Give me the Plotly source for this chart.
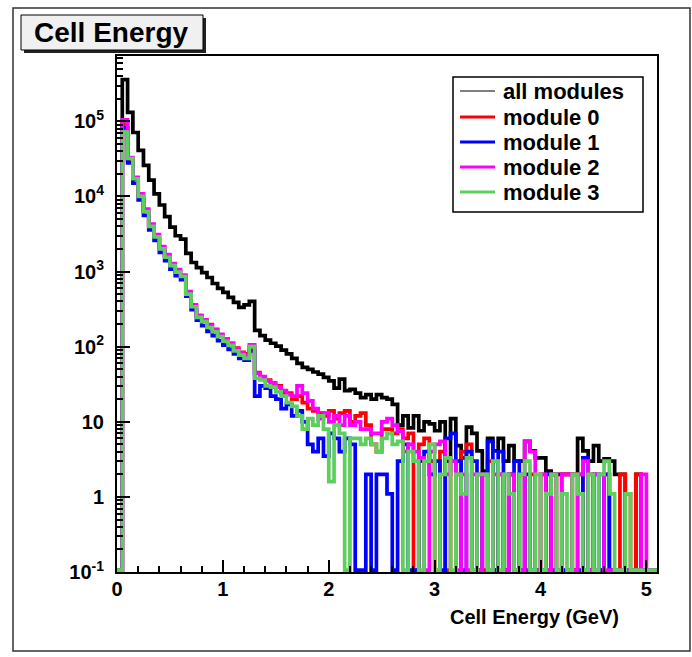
import plotly.graph_objects as go

# ---------------- data (bin contents, 0.05 GeV bins from 0 to 5.1 GeV) ----------------
BIN_WIDTH = 0.05
N_BINS = 102
bin_edges = [round(i * BIN_WIDTH, 4) for i in range(N_BINS + 1)]

all_modules = [
    0, 3.6e5, 1.32e5, 7.1e4, 4.1e4, 2.6e4, 1.65e4, 1.08e4, 7.7e3, 5.4e3,
    3.9e3, 3.0e3, 2.7e3, 1.75e3, 1.32e3, 1.13e3, 970, 834, 694, 596,
    527, 453, 388, 333, 360, 400, 165, 140, 122, 111,
    102, 90, 80, 70, 60, 53, 50, 46, 43, 39,
    35, 28, 37, 26, 27, 24, 21, 23, 20, 23,
    21, 20, 17, 9, 12, 8.3, 12, 7.6, 10, 9.4,
    7.6, 10, 3, 11, 4.8, 3.3, 8.5, 7, 4.1, 2.2,
    6, 4.1, 6, 3, 4.8, 3, 3, 5.5, 4.1, 3.3,
    3.3, 2.2, 2, 2, 2, 2, 2, 6, 4.1, 3,
    4.8, 3, 3.2, 3, 2, 2, 0, 0, 2, 0,
    0, 0]

module0 = [
    0, 9.2e4, 3.1e4, 1.7e4, 1.02e4, 6.4e3, 4.1e3, 2.9e3, 2.05e3, 1.6e3,
    1.22e3, 1.0e3, 880, 520, 350, 258, 222, 196, 170, 140,
    125, 108, 96, 84, 80, 98, 45, 38, 36, 30,
    30, 24, 24, 20, 22, 18, 15, 14, 13, 12,
    14, 11, 13, 14, 10, 12, 13, 9, 5, 4,
    8, 8, 7, 8, 6, 7, 0, 5, 6, 3,
    0, 4, 0, 3, 2, 4, 5, 0, 2, 0,
    3, 0, 2, 0, 2, 0, 2, 0, 2, 0,
    2, 0, 2, 0, 2, 2, 0, 2, 0, 2,
    0, 0, 2, 0, 0, 2, 1.1, 0, 2, 0,
    0, 0]

module1 = [
    0, 8.2e4, 2.8e4, 1.5e4, 9.0e3, 5.6e3, 3.6e3, 2.6e3, 1.8e3, 1.4e3,
    1.08e3, 880, 780, 470, 310, 225, 190, 160, 140, 120,
    105, 92, 80, 70, 66, 88, 22, 30, 28, 22,
    20, 15, 17, 12, 14, 10, 5, 4, 6, 3.5,
    7, 6, 4, 6, 5, 0, 0, 2, 0, 2,
    2, 1.1, 0, 3, 5, 0, 0, 3, 4, 2,
    3, 0, 6, 7, 3, 0, 4, 3, 0, 2,
    5.5, 0, 4, 0, 2, 3, 0, 2, 0, 0,
    0, 2, 0, 0, 0, 0, 0, 0, 3.3, 0,
    2, 0, 2, 0, 0, 0, 0, 0, 0, 0,
    0, 0]

module2 = [
    0, 1.05e5, 3.3e4, 1.8e4, 1.08e4, 6.8e3, 4.3e3, 3.1e3, 2.15e3, 1.68e3,
    1.28e3, 1.06e3, 900, 540, 360, 262, 228, 192, 168, 146,
    127, 112, 94, 82, 76, 106, 44, 40, 35, 33,
    29, 26, 23, 22, 30, 24, 19, 15, 11, 13,
    10, 12, 9, 12, 9, 10, 8, 8, 7, 7,
    10, 11, 9, 7.5, 4, 5, 4, 3.3, 0, 4,
    5, 5.5, 2, 3, 0, 2, 0, 2, 0, 2,
    0, 2, 2, 0, 2, 0, 0, 5.5, 4, 0,
    2, 0, 2, 0, 2, 2, 0, 2, 3, 0,
    2, 2, 0, 0, 0, 0, 0, 0, 0, 2,
    0, 0]

module3 = [
    0, 7.2e4, 3.2e4, 1.72e4, 1.0e4, 6.3e3, 4.0e3, 2.9e3, 2.0e3, 1.55e3,
    1.2e3, 980, 860, 500, 340, 245, 215, 180, 158, 136,
    118, 104, 88, 77, 70, 100, 38, 36, 30, 29,
    25, 22, 18, 16, 12, 8, 11, 9, 12, 8,
    1.6, 9, 7, 0, 6, 6, 5, 6, 5, 4,
    6, 7, 5, 5.5, 0, 4, 3, 0, 3, 5,
    0, 2, 3.3, 0, 2, 1.1, 3.3, 0, 2, 2,
    0, 3, 0, 2, 1.1, 0, 2, 3, 0, 2,
    0, 1.1, 2, 0, 1.1, 0, 2, 1.1, 0, 2,
    0, 2, 3, 1.1, 0, 0, 1.1, 0, 0, 0,
    0, 0]

series_names = ["all modules", "module 0", "module 1", "module 2", "module 3"]
series_values = [all_modules, module0, module1, module2, module3]
series_colors = ["#000000", "#ff0000", "#0000ff", "#ff00ff", "#5ccf5c"]

x_tick_values = [0, 1, 2, 3, 4, 5]
y_tick_values = [0.1, 1, 10, 100, 1e3, 1e4, 1e5]
y_tick_labels = ["10<sup>-1</sup>", "1", "10", "10<sup>2</sup>", "10<sup>3</sup>",
                 "10<sup>4</sup>", "10<sup>5</sup>"]

# ---------------- layout constants ----------------
W, H = 692, 657
L, R, T, B = 117, 657, 56, 572
FONT = "Liberation Sans, Arial, Helvetica, sans-serif"
Y_LOG_MIN, Y_LOG_MAX = -1.0, 5.87
ZERO_LEVEL = 10 ** (Y_LOG_MIN + 0.024)  # empty bins drawn along frame bottom
LINE_W = 3.7


def px(xp):
    return (xp - L) / (R - L)


def py(yp):
    return (B - yp) / (B - T)


fig = go.Figure()
for name, vals, color in zip(series_names, series_values, series_colors):
    yv = [v if v > 0 else ZERO_LEVEL for v in vals]
    yv = yv + [yv[-1]]
    fig.add_trace(go.Scatter(
        x=bin_edges, y=yv, mode="lines", name=name, showlegend=False,
        line=dict(color=color, width=LINE_W, shape="hv"), hoverinfo="skip"))

shapes = []
annotations = []
# outer canvas frame
shapes.append(dict(type="rect", xref="paper", yref="paper", x0=px(13), x1=px(690),
                   y0=py(651), y1=py(8), line=dict(color="#333333", width=1.5)))
# title box with shadow
shapes.append(dict(type="rect", xref="paper", yref="paper", x0=px(24), x1=px(206),
                   y0=py(53), y1=py(18), fillcolor="#222222", line=dict(width=0)))
shapes.append(dict(type="rect", xref="paper", yref="paper", x0=px(21), x1=px(203),
                   y0=py(50), y1=py(15), fillcolor="#f0f0f0",
                   line=dict(color="#000000", width=1)))
annotations.append(dict(xref="paper", yref="paper", x=px(111), y=py(32.5),
                        text="<b>Cell Energy</b>", showarrow=False,
                        xanchor="center", yanchor="middle",
                        font=dict(family=FONT, size=28, color="black")))
# legend
shapes.append(dict(type="rect", xref="paper", yref="paper", x0=px(453), x1=px(643),
                   y0=py(212), y1=py(77), fillcolor="white",
                   line=dict(color="#000000", width=1.5)))
legend_rows = [91, 117, 142, 167, 192]
for i, (name, color) in enumerate(zip(series_names, series_colors)):
    yc = legend_rows[i]
    shapes.append(dict(type="line", xref="paper", yref="paper", x0=px(460), x1=px(495),
                       y0=py(yc), y1=py(yc),
                       line=dict(color=color, width=1.2 if i == 0 else 3)))
    annotations.append(dict(xref="paper", yref="paper", x=px(501), y=py(yc),
                            text="<b>%s</b>" % name, showarrow=False,
                            xanchor="left", yanchor="middle",
                            font=dict(family=FONT, size=22, color="black")))
# x axis title
annotations.append(dict(xref="paper", yref="paper", x=px(621), y=py(617),
                        text="<b>Cell Energy (GeV)</b>", showarrow=False,
                        xanchor="right", yanchor="middle",
                        font=dict(family=FONT, size=20, color="black")))

fig.update_layout(
    width=W, height=H,
    margin=dict(l=L, r=W - R, t=T, b=H - B, pad=0),
    paper_bgcolor="white", plot_bgcolor="white",
    showlegend=False,
    shapes=shapes, annotations=annotations,
    xaxis=dict(
        range=[0, N_BINS * BIN_WIDTH], tickmode="array", tickvals=x_tick_values,
        ticks="inside", ticklen=12, tickwidth=1.5, tickcolor="black",
        minor=dict(dtick=0.2, tick0=0, ticks="inside", ticklen=6, tickwidth=1.5,
                   tickcolor="black", showgrid=False),
        showline=True, mirror=True, linecolor="black", linewidth=2,
        showgrid=False, zeroline=False, ticklabelstandoff=-2,
        tickfont=dict(family=FONT, size=20, color="black", weight="bold")),
    yaxis=dict(
        type="log", range=[Y_LOG_MIN, Y_LOG_MAX], tickmode="array",
        tickvals=y_tick_values, ticktext=y_tick_labels,
        ticks="inside", ticklen=13, tickwidth=1.5, tickcolor="black",
        minor=dict(dtick="D1", ticks="inside", ticklen=6, tickwidth=1.5,
                   tickcolor="black", showgrid=False),
        showline=True, mirror=True, linecolor="black", linewidth=2,
        showgrid=False, zeroline=False, ticklabelstandoff=7,
        tickfont=dict(family=FONT, size=20, color="black", weight="bold")),
)

fig.write_html("out.html")
